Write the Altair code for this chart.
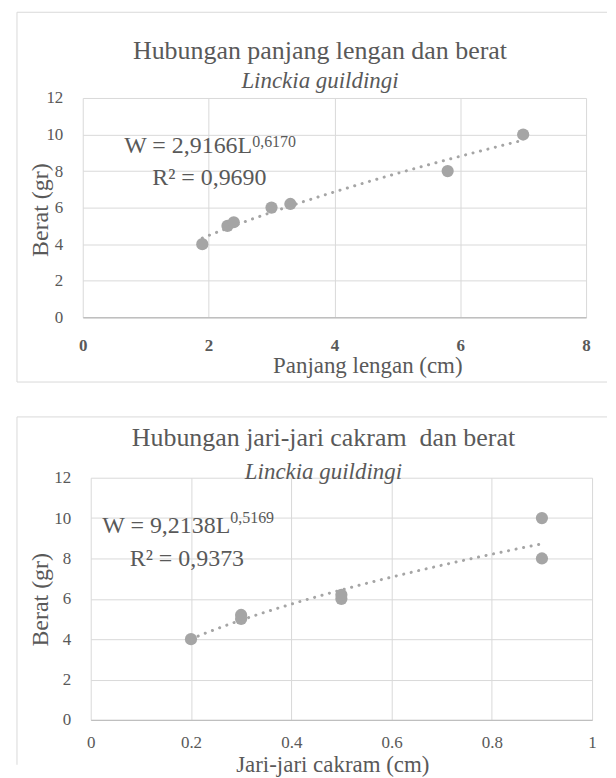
import altair as alt
import pandas as pd

# ---- data ----
panjang_lengan = [1.9, 2.3, 2.4, 3.0, 3.3, 5.8, 7.0]      # cm
jari_jari = [0.2, 0.3, 0.3, 0.5, 0.5, 0.9, 0.9]           # cm
berat = [4, 5, 5.2, 6, 6.2, 8, 10]                         # gr

x_ticks_top = [0, 2, 4, 6, 8]
x_ticks_bottom = [0, 0.2, 0.4, 0.6, 0.8, 1]
y_ticks = [0, 2, 4, 6, 8, 10, 12]

title_top = "Hubungan panjang lengan dan berat"
title_bottom = "Hubungan jari-jari cakram \u00a0dan berat"
subtitle = "Linckia guildingi"
eq_top = ["W = 2,9166L", "0,6170", "R\u00b2 = 0,9690"]
eq_bottom = ["W = 9,2138L", "0,5169", "R\u00b2 = 0,9373"]

FONT = "Liberation Serif"
TXT = "#595959"
GRID = "#d9d9d9"
PT = "#a5a5a5"
BORDER = "#d9d9d9"

one = pd.DataFrame({"k": [0]})


def panel(xvals, xfield, xtitle, xticks, xfmt, xbold, w, xrange, h, ttl, eq,
          border, tpos, ypos, ylp, xlp, txpos, eqpos):
    df = pd.DataFrame({xfield: xvals, "W": berat})
    xs = alt.Scale(domain=[xticks[0], xticks[-1]], range=xrange,
                   nice=False, zero=False)
    ys = alt.Scale(domain=[0, 12], nice=False)
    xaxis = alt.Axis(values=xticks, format=xfmt, grid=True, gridColor=GRID,
                     domainColor="#bfbfbf", domainWidth=1.3, ticks=False,
                     labelPadding=xlp, labelFontSize=17, labelColor=TXT,
                     labelFont=FONT, labelFlush=False,
                     labelFontWeight="bold" if xbold else "normal",
                     title=xtitle, titleFont=FONT, titleFontSize=23,
                     titleFontWeight="normal", titleColor=TXT,
                     titleX=txpos[0], titleY=txpos[1],
                     titleBaseline="alphabetic", titleAlign="center")
    yaxis = alt.Axis(values=y_ticks, grid=True, gridColor=GRID, domain=False,
                     ticks=False, labelPadding=ylp, labelFontSize=17,
                     labelColor=TXT, labelFont=FONT, labelFlush=False,
                     title="Berat (gr)", titleFont=FONT, titleFontSize=24,
                     titleFontWeight="normal", titleColor=TXT,
                     titleX=ypos[0], titleY=ypos[1], titleAngle=270,
                     titleBaseline="alphabetic", titleAlign="center")

    line = alt.Chart(df).transform_regression(
        xfield, "W", method="pow"
    ).mark_line(color=PT, strokeWidth=3, strokeDash=[0.1, 7.6],
                strokeCap="round").encode(
        x=alt.X(f"{xfield}:Q", scale=xs, axis=xaxis),
        y=alt.Y("W:Q", scale=ys, axis=yaxis),
    )
    pts = alt.Chart(df).mark_circle(size=150, color=PT, opacity=1).encode(
        x=alt.X(f"{xfield}:Q", scale=xs, axis=xaxis),
        y=alt.Y("W:Q", scale=ys, axis=yaxis),
    )

    (mx, my), (sx, sy), (rx, ry) = eqpos
    t1 = alt.Chart(one).mark_text(font=FONT, fontSize=24, color=TXT,
                                  align="right", baseline="alphabetic").encode(
        x=alt.value(mx), y=alt.value(my), text=alt.value(eq[0]))
    t2 = alt.Chart(one).mark_text(font=FONT, fontSize=16, color=TXT,
                                  align="left", baseline="alphabetic").encode(
        x=alt.value(sx), y=alt.value(sy), text=alt.value(eq[1]))
    t3 = alt.Chart(one).mark_text(font=FONT, fontSize=24, color=TXT,
                                  align="center", baseline="alphabetic").encode(
        x=alt.value(rx), y=alt.value(ry), text=alt.value(eq[2]))

    bl, bt, br, bb, draw_bottom = border
    rules = [
        alt.Chart(one).mark_rule(color=BORDER, strokeWidth=1).encode(
            x=alt.value(bl), x2=alt.value(br), y=alt.value(bt)),
        alt.Chart(one).mark_rule(color=BORDER, strokeWidth=1).encode(
            x=alt.value(bl), y=alt.value(bt), y2=alt.value(bb)),
    ]
    if draw_bottom:
        rules.append(alt.Chart(one).mark_rule(color=BORDER, strokeWidth=1).encode(
            x=alt.value(bl), x2=alt.value(br), y=alt.value(bb)))

    off, pad, dx = tpos
    return alt.layer(*rules, line, pts, t1, t2, t3).properties(
        width=w, height=h,
        title=alt.TitleParams(
            text=ttl, subtitle=subtitle, anchor="middle", frame="group",
            offset=off, subtitlePadding=pad, dx=dx,
            font=FONT, fontSize=26, fontWeight="normal", color=TXT,
            subtitleFont=FONT, subtitleFontSize=23,
            subtitleFontStyle="italic", subtitleColor=TXT),
    )


# both panels share the same left origin (page x = 82); the lower plot's
# x range starts 8 px further right, as in the reference
top = panel(panjang_lengan, "L", "Panjang lengan (cm)", x_ticks_top, "d", True,
            505, [0, 505], 220, title_top, eq_top,
            border=(-66, -86, 526, 285, True),
            tpos=(-81.8, 6.7, -14.5),
            ypos=(-35.6, 112), ylp=20, xlp=20, txpos=(285.5, 55.7),
            eqpos=((170, 55.7), (170, 49), (127, 87)))

bottom = panel(jari_jari, "R", "Jari-jari cakram (cm)", x_ticks_bottom, "~g", False,
               511, [8, 511], 243, title_bottom, eq_bottom,
               border=(-66, -61, 526, 288, False),
               tpos=(-68.0, 10.2, -14),
               ypos=(-35.6, 122), ylp=12, xlp=15, txpos=(250.4, 52),
               eqpos=((148, 55), (148, 45), (104.5, 88.3)))

chart = alt.vconcat(top, bottom, spacing=33).resolve_scale(
    x="independent", y="independent"
).properties(
    padding={"left": 8, "top": 2, "right": 0, "bottom": 0}
).configure_view(stroke=None).configure_axis(
    labelFont=FONT, titleFont=FONT
).configure_title(font=FONT, subtitleFont=FONT).configure_text(font=FONT)

chart.save("out.html", embed_options={"renderer": "svg", "actions": False})
